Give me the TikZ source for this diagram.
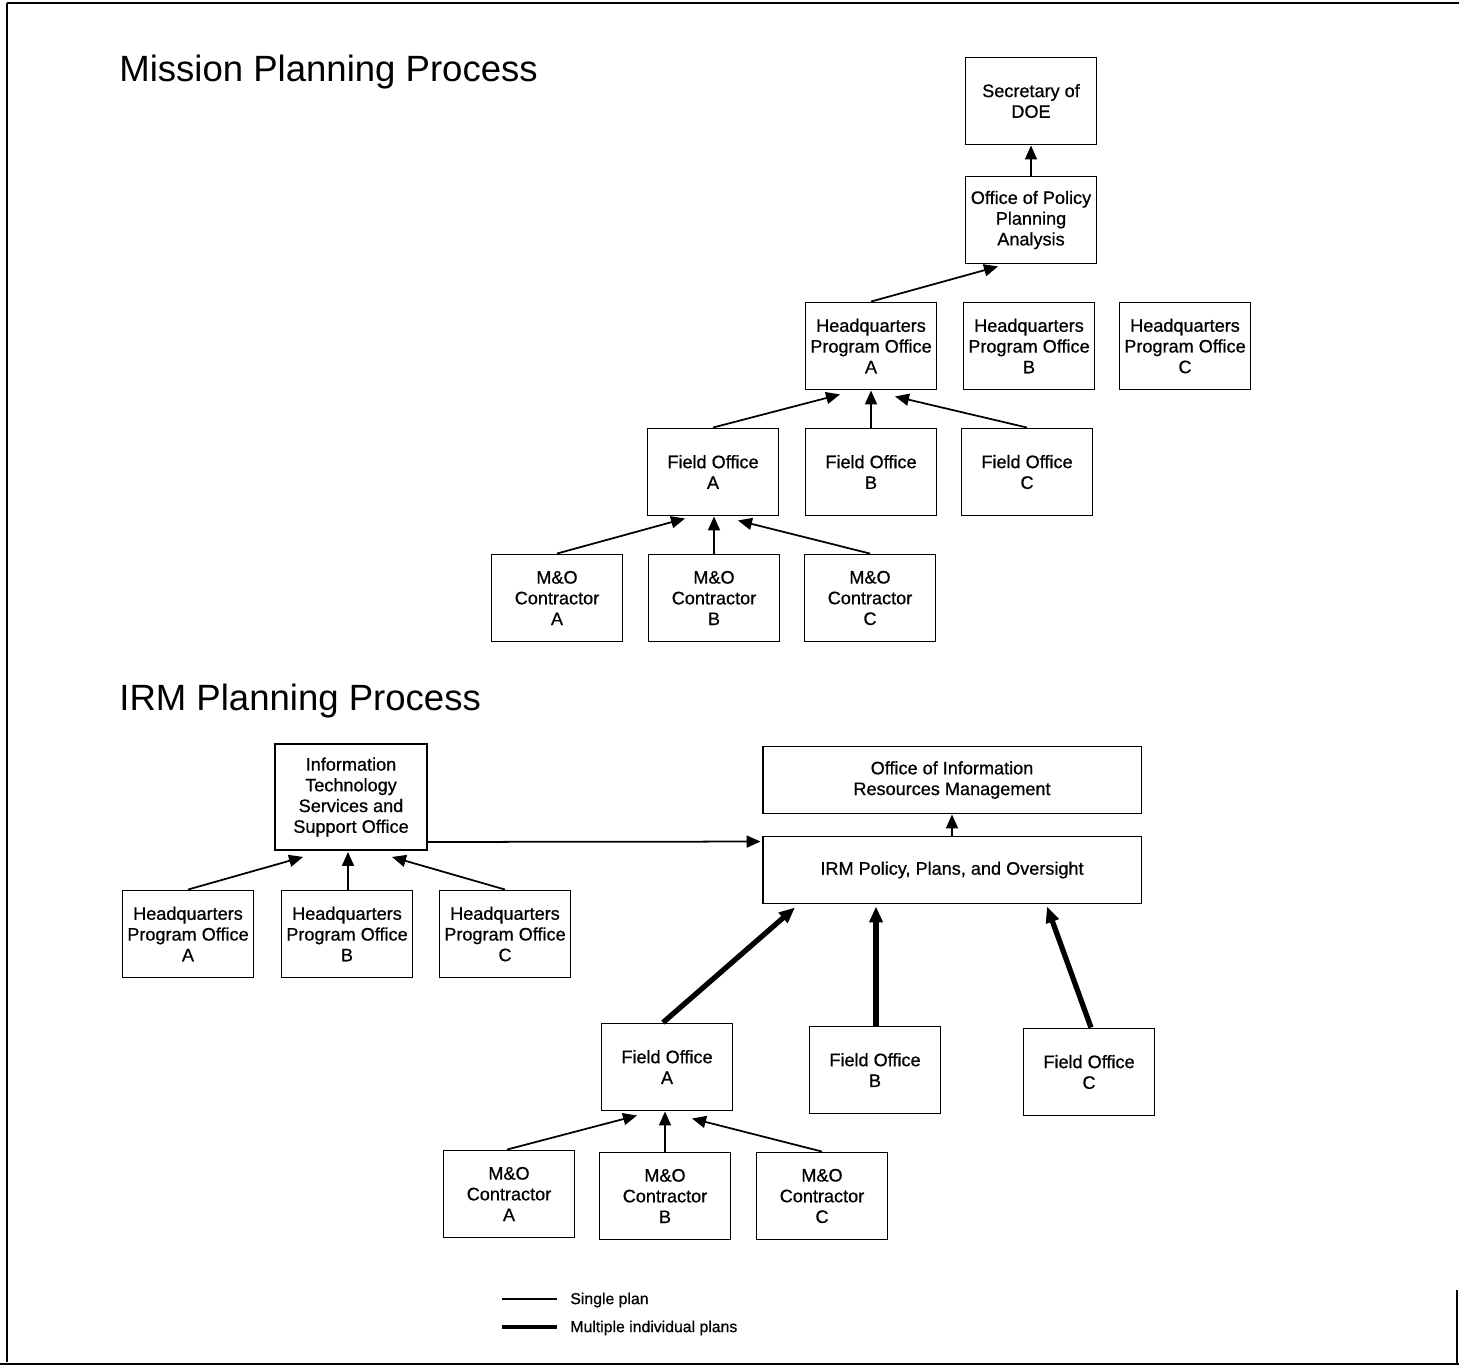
\documentclass[tikz,border=0pt]{standalone}
\usepackage{fontspec}
\setmainfont{Liberation Sans}
\newfontfamily\boxfont{Liberation Sans}[FakeBold=0.7]
\usetikzlibrary{arrows.meta,calc}
\begin{document}
\begin{tikzpicture}[x=0.02cm,y=-0.02cm,
  box/.style={draw,line width=1.1pt,minimum width=2.62cm,minimum height=1.74cm,
    inner sep=1pt,align=center,font=\boxfont\fontsize{10.3}{11.8}\selectfont},
  widebox/.style={box,minimum width=7.58cm,minimum height=1.34cm},
  singleplan/.style={line width=1pt,-{Triangle[length=0.28cm,width=0.24cm]}},
  multiplan/.style={line width=3pt,-{Triangle[length=0.32cm,width=0.26cm]}},
  heading/.style={anchor=base west,inner sep=0pt,font=\fontsize{20.8}{24}\selectfont}]

  \useasboundingbox (0,0) rectangle (1459,1366);

  % Frame
  \draw[line width=1.6pt] (7,3)--(1459,3);
  \draw[line width=1.2pt] (7,3)--(7,1362);
  \draw[line width=1.6pt] (0,1364)--(1459,1364);
  \draw[line width=1.2pt] (1457,1290)--(1457,1364);

  % Mission planning
  \node[heading] (titlemission) at (119,81) {Mission Planning Process};

  \node[box] (sec)  at (1031,101) {Secretary of\\DOE};
  \node[box] (oppa) at (1031,220) {Office of Policy\\Planning\\Analysis};
  \node[box] (hqa)  at (871,346)  {Headquarters\\Program Office\\A};
  \node[box] (hqb)  at (1029,346) {Headquarters\\Program Office\\B};
  \node[box] (hqc)  at (1185,346) {Headquarters\\Program Office\\C};
  \node[box] (foa)  at (713,472)  {Field Office\\A};
  \node[box] (fob)  at (871,472)  {Field Office\\B};
  \node[box] (foc)  at (1027,472) {Field Office\\C};
  \node[box] (moa)  at (557,598)  {M\&O\\Contractor\\A};
  \node[box] (mob)  at (714,598)  {M\&O\\Contractor\\B};
  \node[box] (moc)  at (870,598)  {M\&O\\Contractor\\C};

  % Arrows
  \draw[singleplan] (oppa.north)--(sec.south);
  \draw[singleplan] (hqa.north)--($(oppa.south)+(-33,2)$);
  \draw[singleplan] (foa.north)--($(hqa.south)+(-31,4)$);
  \draw[singleplan] (fob.north)--(hqa.south);
  \draw[singleplan] (foc.north)--($(hqa.south)+(24,6)$);
  \draw[singleplan] (moa.north)--($(foa.south)+(-28,2)$);
  \draw[singleplan] (mob.north)--(mob.north |- foa.south);
  \draw[singleplan] (moc.north)--($(foa.south)+(25,4)$);

  % IRM planning
  \node[heading] (titleirm) at (119,710) {IRM Planning Process};

  \node[box,minimum width=3.04cm,minimum height=2.12cm] (itss) at (351,797)
    {Information\\Technology\\Services and\\Support Office};
  \node[box] (hqa2) at (188,934) {Headquarters\\Program Office\\A};
  \node[box] (hqb2) at (347,934) {Headquarters\\Program Office\\B};
  \node[box] (hqc2) at (505,934) {Headquarters\\Program Office\\C};
  \node[widebox] (oirm) at (952,780) {Office of Information\\Resources Management};
  \node[widebox] (irm)  at (952,870) {IRM Policy, Plans, and Oversight};
  \node[box] (foa2) at (667,1067) {Field Office\\A};
  \node[box] (fob2) at (875,1070) {Field Office\\B};
  \node[box] (foc2) at (1089,1072) {Field Office\\C};
  \node[box] (moa2) at (509,1194) {M\&O\\Contractor\\A};
  \node[box] (mob2) at (665,1196) {M\&O\\Contractor\\B};
  \node[box] (moc2) at (822,1196) {M\&O\\Contractor\\C};

  % Arrows
  \draw[singleplan] (hqa2.north)--($(itss.south)+(-48,6)$);
  \draw[singleplan] ($(hqb2.north)+(1,0)$)--($(itss.south)+(-3,1)$);
  \draw[singleplan] (hqc2.north)--($(itss.south)+(41,6)$);
  \draw[singleplan] ($(itss.south east)+(0,-9)$)--($(irm.north west)+(-1,6)$);
  \draw[singleplan] (irm.north)--(oirm.south);
  \draw[multiplan] ($(foa2.north)+(-4,0)$)--($(irm.south)+(-157,3)$);
  \draw[multiplan] ($(fob2.north)+(1,0)$)--($(irm.south)+(-76,2)$);
  \draw[multiplan] ($(foc2.north)+(2,0)$)--($(irm.south)+(95,2)$);
  \draw[singleplan] ($(moa2.north)+(-2,0)$)--($(foa2.south)+(-30,4)$);
  \draw[singleplan] (mob2.north)--(mob2.north |- foa2.south);
  \draw[singleplan] (moc2.north)--($(foa2.south)+(25,7)$);

  % Legend
  \coordinate (singlea) at (502,1299);
  \coordinate (singleb) at (557,1299);
  \coordinate (multia) at (502,1327);
  \coordinate (multib) at (557,1327);
  \draw[line width=0.9pt] (singlea)--(singleb);
  \draw[line width=2.6pt] (multia)--(multib);
  \node[right,inner sep=0pt,font=\boxfont\fontsize{9}{11}\selectfont] (singletext) at (570,1300) {Single plan};
  \node[right,inner sep=0pt,font=\boxfont\fontsize{9}{11}\selectfont] (multitext) at (570,1328) {Multiple individual plans};
\end{tikzpicture}
\end{document}
